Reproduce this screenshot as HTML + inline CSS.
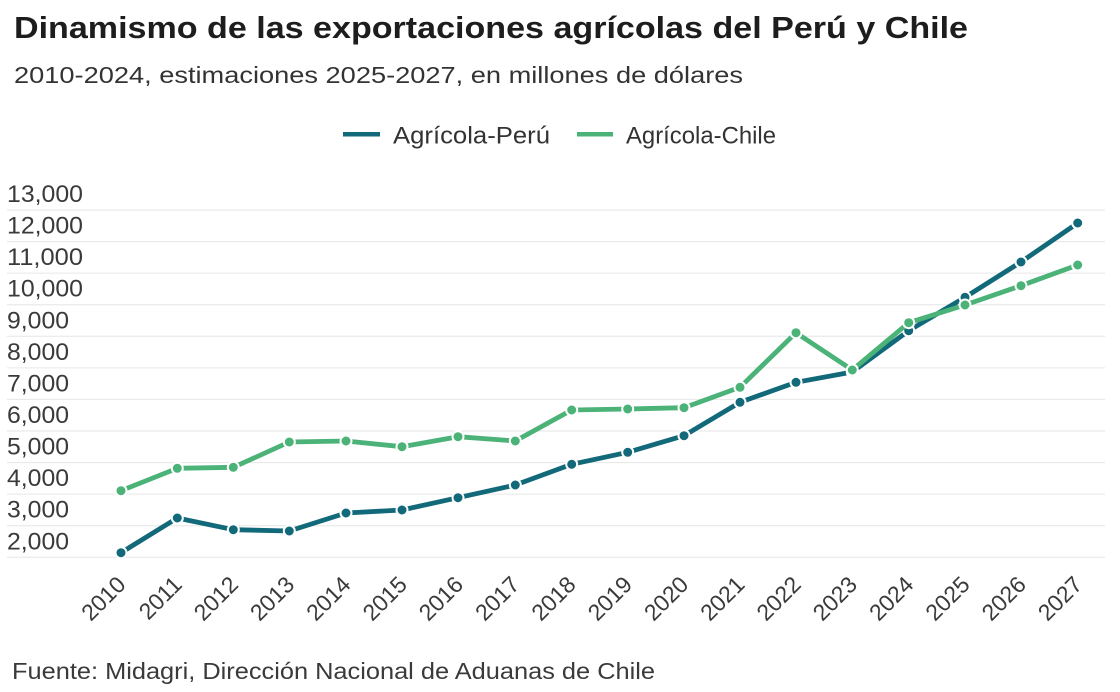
<!DOCTYPE html>
<html>
<head>
<meta charset="utf-8">
<style>
html,body{margin:0;padding:0;background:#fff;}
svg{display:block;}
text{font-family:"Liberation Sans",Arial,sans-serif;}
</style>
</head>
<body>
<svg width="1120" height="692" viewBox="0 0 1120 692" xmlns="http://www.w3.org/2000/svg">
<rect width="1120" height="692" fill="#fff"/>
<!-- Title -->
<text x="14" y="38" font-size="31" font-weight="bold" fill="#1d1d1d" textLength="954" lengthAdjust="spacingAndGlyphs">Dinamismo de las exportaciones agrícolas del Perú y Chile</text>
<text x="14" y="83" font-size="23" fill="#333" textLength="729" lengthAdjust="spacingAndGlyphs">2010-2024, estimaciones 2025-2027, en millones de dólares</text>
<!-- Legend -->
<line x1="343" y1="134.3" x2="380" y2="134.3" stroke="#12697a" stroke-width="4.5"/>
<text x="393" y="143.3" font-size="24" fill="#333" textLength="157" lengthAdjust="spacingAndGlyphs">Agrícola-Perú</text>
<line x1="577" y1="134.3" x2="613" y2="134.3" stroke="#4bb378" stroke-width="4.5"/>
<text x="626" y="143.3" font-size="24" fill="#333" textLength="150" lengthAdjust="spacingAndGlyphs">Agrícola-Chile</text>
<!-- Gridlines -->
<g stroke="#e6e6e6" stroke-width="1">
<line x1="7" x2="1105" y1="210" y2="210"/>
<line x1="7" x2="1105" y1="241.6" y2="241.6"/>
<line x1="7" x2="1105" y1="273.1" y2="273.1"/>
<line x1="7" x2="1105" y1="304.7" y2="304.7"/>
<line x1="7" x2="1105" y1="336.3" y2="336.3"/>
<line x1="7" x2="1105" y1="367.9" y2="367.9"/>
<line x1="7" x2="1105" y1="399.4" y2="399.4"/>
<line x1="7" x2="1105" y1="431" y2="431"/>
<line x1="7" x2="1105" y1="462.6" y2="462.6"/>
<line x1="7" x2="1105" y1="494.1" y2="494.1"/>
<line x1="7" x2="1105" y1="525.7" y2="525.7"/>
<line x1="7" x2="1105" y1="557.3" y2="557.3"/>
</g>
<!-- Y labels -->
<g font-size="24.5" fill="#3a3a3a">
<text x="7" y="202" textLength="76" lengthAdjust="spacingAndGlyphs">13,000</text>
<text x="7" y="233.6" textLength="76" lengthAdjust="spacingAndGlyphs">12,000</text>
<text x="7" y="265.1" textLength="76" lengthAdjust="spacingAndGlyphs">11,000</text>
<text x="7" y="296.7" textLength="76" lengthAdjust="spacingAndGlyphs">10,000</text>
<text x="7" y="328.3" textLength="62" lengthAdjust="spacingAndGlyphs">9,000</text>
<text x="7" y="359.9" textLength="62" lengthAdjust="spacingAndGlyphs">8,000</text>
<text x="7" y="391.4" textLength="62" lengthAdjust="spacingAndGlyphs">7,000</text>
<text x="7" y="423" textLength="62" lengthAdjust="spacingAndGlyphs">6,000</text>
<text x="7" y="454.6" textLength="62" lengthAdjust="spacingAndGlyphs">5,000</text>
<text x="7" y="486.1" textLength="62" lengthAdjust="spacingAndGlyphs">4,000</text>
<text x="7" y="517.7" textLength="62" lengthAdjust="spacingAndGlyphs">3,000</text>
<text x="7" y="549.3" textLength="62" lengthAdjust="spacingAndGlyphs">2,000</text>
</g>
<!-- X labels -->
<g font-size="23" fill="#3a3a3a" text-anchor="end">
<text transform="translate(127,586) rotate(-45)">2010</text>
<text transform="translate(183.3,586) rotate(-45)">2011</text>
<text transform="translate(239.5,586) rotate(-45)">2012</text>
<text transform="translate(295.8,586) rotate(-45)">2013</text>
<text transform="translate(352.1,586) rotate(-45)">2014</text>
<text transform="translate(408.4,586) rotate(-45)">2015</text>
<text transform="translate(464.6,586) rotate(-45)">2016</text>
<text transform="translate(520.9,586) rotate(-45)">2017</text>
<text transform="translate(577.2,586) rotate(-45)">2018</text>
<text transform="translate(633.5,586) rotate(-45)">2019</text>
<text transform="translate(689.8,586) rotate(-45)">2020</text>
<text transform="translate(746,586) rotate(-45)">2021</text>
<text transform="translate(802.3,586) rotate(-45)">2022</text>
<text transform="translate(858.6,586) rotate(-45)">2023</text>
<text transform="translate(914.9,586) rotate(-45)">2024</text>
<text transform="translate(971.2,586) rotate(-45)">2025</text>
<text transform="translate(1027.4,586) rotate(-45)">2026</text>
<text transform="translate(1083.7,586) rotate(-45)">2027</text>
</g>
<!-- Peru series -->
<polyline fill="none" stroke="#12697a" stroke-width="4.8" stroke-linejoin="round" points="121,552.7 177.3,518 233.3,529.7 289.3,531 346,513 402,510 458,497.7 515.3,485 571.7,464.3 627.7,452.3 684,435.7 740,402.3 796,382.3 852.3,372 908.7,330.7 965,297.3 1021,262 1077.7,223"/>
<g fill="#12697a" stroke="#fff" stroke-width="2">
<circle cx="121" cy="552.7" r="5.5"/><circle cx="177.3" cy="518" r="5.5"/><circle cx="233.3" cy="529.7" r="5.5"/><circle cx="289.3" cy="531" r="5.5"/><circle cx="346" cy="513" r="5.5"/><circle cx="402" cy="510" r="5.5"/><circle cx="458" cy="497.7" r="5.5"/><circle cx="515.3" cy="485" r="5.5"/><circle cx="571.7" cy="464.3" r="5.5"/><circle cx="627.7" cy="452.3" r="5.5"/><circle cx="684" cy="435.7" r="5.5"/><circle cx="740" cy="402.3" r="5.5"/><circle cx="796" cy="382.3" r="5.5"/><circle cx="852.3" cy="372" r="5.5"/><circle cx="908.7" cy="330.7" r="5.5"/><circle cx="965" cy="297.3" r="5.5"/><circle cx="1021" cy="262" r="5.5"/><circle cx="1077.7" cy="223" r="5.5"/>
</g>
<!-- Chile series -->
<polyline fill="none" stroke="#4bb378" stroke-width="4.8" stroke-linejoin="round" points="121,490.7 177.3,468.3 233.3,467.3 289.3,442 346,441 402,446.7 458,436.7 515.3,441 571.7,410 627.7,409 684,407.7 740,387.3 796,332.7 852.3,370 908.7,322.7 965,305 1021,285.7 1077.7,265"/>
<g fill="#4bb378" stroke="#fff" stroke-width="2">
<circle cx="121" cy="490.7" r="5.5"/><circle cx="177.3" cy="468.3" r="5.5"/><circle cx="233.3" cy="467.3" r="5.5"/><circle cx="289.3" cy="442" r="5.5"/><circle cx="346" cy="441" r="5.5"/><circle cx="402" cy="446.7" r="5.5"/><circle cx="458" cy="436.7" r="5.5"/><circle cx="515.3" cy="441" r="5.5"/><circle cx="571.7" cy="410" r="5.5"/><circle cx="627.7" cy="409" r="5.5"/><circle cx="684" cy="407.7" r="5.5"/><circle cx="740" cy="387.3" r="5.5"/><circle cx="796" cy="332.7" r="5.5"/><circle cx="852.3" cy="370" r="5.5"/><circle cx="908.7" cy="322.7" r="5.5"/><circle cx="965" cy="305" r="5.5"/><circle cx="1021" cy="285.7" r="5.5"/><circle cx="1077.7" cy="265" r="5.5"/>
</g>
<!-- Footer -->
<text x="12" y="679" font-size="23" fill="#3a3a3a" textLength="643" lengthAdjust="spacingAndGlyphs">Fuente: Midagri, Dirección Nacional de Aduanas de Chile</text>
</svg>
</body>
</html>
